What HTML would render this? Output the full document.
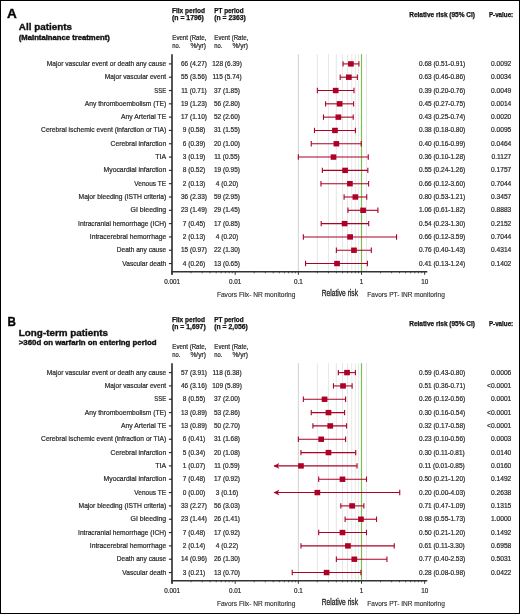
<!DOCTYPE html>
<html><head><meta charset="utf-8"><style>
html,body{margin:0;padding:0;background:#fff;}
svg{display:block;will-change:transform;}
text{font-family:"Liberation Sans",sans-serif;}
.r{stroke:#2a2a2a;stroke-width:0.22px;}
.b{stroke:#111;stroke-width:0.35px;}
.h{stroke:#111;stroke-width:0.25px;}
.f{stroke:#2a2a2a;stroke-width:0.12px;}
.g{stroke:#222;stroke-width:0.3px;}
</style></head><body>
<svg width="520" height="614" viewBox="0 0 520 614">
<rect x="0.5" y="0.5" width="519" height="613" fill="#fff" stroke="#000" stroke-width="1"/>
<text class="b" x="7.10" y="17.80" font-size="12.0" font-weight="bold" textLength="9.80" lengthAdjust="spacingAndGlyphs" fill="#000">A</text>
<text class="b" x="18.80" y="30.10" font-size="9.6" font-weight="bold" textLength="53.20" lengthAdjust="spacingAndGlyphs" fill="#111">All patients</text>
<text class="b" x="18.80" y="39.50" font-size="6.7" font-weight="bold" textLength="91.00" lengthAdjust="spacingAndGlyphs" fill="#111">(Maintainance treatment)</text>
<text class="h" x="172.00" y="12.70" font-size="6.5" font-weight="bold" textLength="33.00" lengthAdjust="spacingAndGlyphs" fill="#111">Fiix period</text>
<text class="h" x="172.00" y="20.10" font-size="6.5" font-weight="bold" textLength="31.90" lengthAdjust="spacingAndGlyphs" fill="#111">(n = 1796)</text>
<text class="h" x="214.30" y="12.70" font-size="6.5" font-weight="bold" textLength="29.30" lengthAdjust="spacingAndGlyphs" fill="#111">PT period</text>
<text class="h" x="214.30" y="20.10" font-size="6.5" font-weight="bold" textLength="31.60" lengthAdjust="spacingAndGlyphs" fill="#111">(n = 2363)</text>
<text class="r" x="172.30" y="40.10" font-size="6.9" textLength="34.00" lengthAdjust="spacingAndGlyphs" fill="#2a2a2a">Event (Rate,</text>
<text class="r" x="172.30" y="48.30" font-size="6.9" textLength="8.10" lengthAdjust="spacingAndGlyphs" fill="#2a2a2a">no.</text>
<text class="r" x="205.90" y="48.30" font-size="6.9" text-anchor="end" textLength="15.40" lengthAdjust="spacingAndGlyphs" fill="#2a2a2a">%/yr)</text>
<text class="r" x="214.30" y="40.10" font-size="6.9" textLength="34.00" lengthAdjust="spacingAndGlyphs" fill="#2a2a2a">Event (Rate,</text>
<text class="r" x="214.30" y="48.30" font-size="6.9" textLength="8.10" lengthAdjust="spacingAndGlyphs" fill="#2a2a2a">no.</text>
<text class="r" x="247.90" y="48.30" font-size="6.9" text-anchor="end" textLength="15.40" lengthAdjust="spacingAndGlyphs" fill="#2a2a2a">%/yr)</text>
<text class="h" x="409.20" y="16.60" font-size="6.5" font-weight="bold" textLength="65.80" lengthAdjust="spacingAndGlyphs" fill="#111">Relative risk (95% CI)</text>
<text class="h" x="488.90" y="16.60" font-size="6.5" font-weight="bold" textLength="24.30" lengthAdjust="spacingAndGlyphs" fill="#111">P-value:</text>
<line x1="317.36" y1="54.2" x2="317.36" y2="271.8" stroke="#e4e4e4" stroke-width="0.9"/>
<line x1="328.48" y1="54.2" x2="328.48" y2="271.8" stroke="#e4e4e4" stroke-width="0.9"/>
<line x1="336.37" y1="54.2" x2="336.37" y2="271.8" stroke="#e4e4e4" stroke-width="0.9"/>
<line x1="342.49" y1="54.2" x2="342.49" y2="271.8" stroke="#e4e4e4" stroke-width="0.9"/>
<line x1="347.49" y1="54.2" x2="347.49" y2="271.8" stroke="#e4e4e4" stroke-width="0.9"/>
<line x1="351.72" y1="54.2" x2="351.72" y2="271.8" stroke="#e4e4e4" stroke-width="0.9"/>
<line x1="355.38" y1="54.2" x2="355.38" y2="271.8" stroke="#e4e4e4" stroke-width="0.9"/>
<line x1="358.61" y1="54.2" x2="358.61" y2="271.8" stroke="#e4e4e4" stroke-width="0.9"/>
<line x1="366.50" y1="54.2" x2="366.50" y2="271.8" stroke="#e4e4e4" stroke-width="0.9"/>
<line x1="298.35" y1="54.2" x2="298.35" y2="271.8" stroke="#d2d2d2" stroke-width="1"/>
<line x1="361.50" y1="54.2" x2="361.50" y2="271.8" stroke="#7cbd55" stroke-width="1.2"/>
<line x1="172" y1="54.2" x2="172" y2="274.8" stroke="#383838" stroke-width="1.7"/>
<line x1="171.2" y1="271.8" x2="427.3" y2="271.8" stroke="#333" stroke-width="1.6"/>
<line x1="172.05" y1="271.8" x2="172.05" y2="274.8" stroke="#333" stroke-width="1"/>
<line x1="191.06" y1="271.8" x2="191.06" y2="273.3" stroke="#333" stroke-width="0.8"/>
<line x1="202.18" y1="271.8" x2="202.18" y2="273.3" stroke="#333" stroke-width="0.8"/>
<line x1="210.07" y1="271.8" x2="210.07" y2="273.3" stroke="#333" stroke-width="0.8"/>
<line x1="216.19" y1="271.8" x2="216.19" y2="273.3" stroke="#333" stroke-width="0.8"/>
<line x1="221.19" y1="271.8" x2="221.19" y2="273.3" stroke="#333" stroke-width="0.8"/>
<line x1="225.42" y1="271.8" x2="225.42" y2="273.3" stroke="#333" stroke-width="0.8"/>
<line x1="229.08" y1="271.8" x2="229.08" y2="273.3" stroke="#333" stroke-width="0.8"/>
<line x1="232.31" y1="271.8" x2="232.31" y2="273.3" stroke="#333" stroke-width="0.8"/>
<line x1="235.20" y1="271.8" x2="235.20" y2="274.8" stroke="#333" stroke-width="1"/>
<line x1="254.21" y1="271.8" x2="254.21" y2="273.3" stroke="#333" stroke-width="0.8"/>
<line x1="265.33" y1="271.8" x2="265.33" y2="273.3" stroke="#333" stroke-width="0.8"/>
<line x1="273.22" y1="271.8" x2="273.22" y2="273.3" stroke="#333" stroke-width="0.8"/>
<line x1="279.34" y1="271.8" x2="279.34" y2="273.3" stroke="#333" stroke-width="0.8"/>
<line x1="284.34" y1="271.8" x2="284.34" y2="273.3" stroke="#333" stroke-width="0.8"/>
<line x1="288.57" y1="271.8" x2="288.57" y2="273.3" stroke="#333" stroke-width="0.8"/>
<line x1="292.23" y1="271.8" x2="292.23" y2="273.3" stroke="#333" stroke-width="0.8"/>
<line x1="295.46" y1="271.8" x2="295.46" y2="273.3" stroke="#333" stroke-width="0.8"/>
<line x1="298.35" y1="271.8" x2="298.35" y2="274.8" stroke="#333" stroke-width="1"/>
<line x1="317.36" y1="271.8" x2="317.36" y2="273.3" stroke="#333" stroke-width="0.8"/>
<line x1="328.48" y1="271.8" x2="328.48" y2="273.3" stroke="#333" stroke-width="0.8"/>
<line x1="336.37" y1="271.8" x2="336.37" y2="273.3" stroke="#333" stroke-width="0.8"/>
<line x1="342.49" y1="271.8" x2="342.49" y2="273.3" stroke="#333" stroke-width="0.8"/>
<line x1="347.49" y1="271.8" x2="347.49" y2="273.3" stroke="#333" stroke-width="0.8"/>
<line x1="351.72" y1="271.8" x2="351.72" y2="273.3" stroke="#333" stroke-width="0.8"/>
<line x1="355.38" y1="271.8" x2="355.38" y2="273.3" stroke="#333" stroke-width="0.8"/>
<line x1="358.61" y1="271.8" x2="358.61" y2="273.3" stroke="#333" stroke-width="0.8"/>
<line x1="361.50" y1="271.8" x2="361.50" y2="274.8" stroke="#333" stroke-width="1"/>
<line x1="380.51" y1="271.8" x2="380.51" y2="273.3" stroke="#333" stroke-width="0.8"/>
<line x1="391.63" y1="271.8" x2="391.63" y2="273.3" stroke="#333" stroke-width="0.8"/>
<line x1="399.52" y1="271.8" x2="399.52" y2="273.3" stroke="#333" stroke-width="0.8"/>
<line x1="405.64" y1="271.8" x2="405.64" y2="273.3" stroke="#333" stroke-width="0.8"/>
<line x1="410.64" y1="271.8" x2="410.64" y2="273.3" stroke="#333" stroke-width="0.8"/>
<line x1="414.87" y1="271.8" x2="414.87" y2="273.3" stroke="#333" stroke-width="0.8"/>
<line x1="418.53" y1="271.8" x2="418.53" y2="273.3" stroke="#333" stroke-width="0.8"/>
<line x1="421.76" y1="271.8" x2="421.76" y2="273.3" stroke="#333" stroke-width="0.8"/>
<line x1="424.65" y1="271.8" x2="424.65" y2="274.8" stroke="#333" stroke-width="1"/>
<text class="r" x="172.05" y="283.60" font-size="7.0" text-anchor="middle" textLength="15.76" lengthAdjust="spacingAndGlyphs" fill="#2a2a2a">0.001</text>
<text class="r" x="235.20" y="283.60" font-size="7.0" text-anchor="middle" textLength="12.26" lengthAdjust="spacingAndGlyphs" fill="#2a2a2a">0.01</text>
<text class="r" x="298.35" y="283.60" font-size="7.0" text-anchor="middle" textLength="8.76" lengthAdjust="spacingAndGlyphs" fill="#2a2a2a">0.1</text>
<text class="r" x="361.50" y="283.60" font-size="7.0" text-anchor="middle" textLength="3.50" lengthAdjust="spacingAndGlyphs" fill="#2a2a2a">1</text>
<text class="r" x="424.65" y="283.60" font-size="7.0" text-anchor="middle" textLength="7.01" lengthAdjust="spacingAndGlyphs" fill="#2a2a2a">10</text>
<text class="f" x="216.90" y="296.50" font-size="6.9" textLength="78.50" lengthAdjust="spacingAndGlyphs" fill="#2a2a2a">Favors Fiix- NR monitoring</text>
<text class="g" x="321.80" y="295.60" font-size="8.6" textLength="36.20" lengthAdjust="spacingAndGlyphs" fill="#222">Relative risk</text>
<text class="f" x="367.30" y="296.50" font-size="6.9" textLength="77.50" lengthAdjust="spacingAndGlyphs" fill="#2a2a2a">Favors PT- INR monitoring</text>
<line x1="168.9" y1="63.90" x2="172" y2="63.90" stroke="#2a2a2a" stroke-width="1.15"/>
<text class="r" x="166.20" y="65.90" font-size="7.3" text-anchor="end" textLength="119.40" lengthAdjust="spacingAndGlyphs" fill="#2a2a2a">Major vascular event or death any cause</text>
<text class="r" x="194.00" y="65.90" font-size="7.3" text-anchor="middle" textLength="26.00" lengthAdjust="spacingAndGlyphs" fill="#2a2a2a">66 (4.27)</text>
<text class="r" x="227.00" y="65.90" font-size="7.3" text-anchor="middle" textLength="29.61" lengthAdjust="spacingAndGlyphs" fill="#2a2a2a">128 (6.39)</text>
<text class="r" x="419.00" y="65.90" font-size="7.3" textLength="46.23" lengthAdjust="spacingAndGlyphs" fill="#2a2a2a">0.68 (0.51-0.91)</text>
<text class="r" x="511.30" y="65.90" font-size="7.3" text-anchor="end" textLength="20.34" lengthAdjust="spacingAndGlyphs" fill="#2a2a2a">0.0092</text>
<line x1="343.03" y1="63.90" x2="358.91" y2="63.90" stroke="#ad0026" stroke-width="1.1"/>
<line x1="358.91" y1="61.20" x2="358.91" y2="66.60" stroke="#ad0026" stroke-width="1.1"/>
<line x1="343.03" y1="61.20" x2="343.03" y2="66.60" stroke="#ad0026" stroke-width="1.1"/>
<rect x="348.07" y="61.20" width="5.7" height="5.4" fill="#ad0026"/>
<line x1="168.9" y1="77.21" x2="172" y2="77.21" stroke="#2a2a2a" stroke-width="1.15"/>
<text class="r" x="166.20" y="79.21" font-size="7.3" text-anchor="end" textLength="61.40" lengthAdjust="spacingAndGlyphs" fill="#2a2a2a">Major vascular event</text>
<text class="r" x="194.00" y="79.21" font-size="7.3" text-anchor="middle" textLength="26.00" lengthAdjust="spacingAndGlyphs" fill="#2a2a2a">55 (3.56)</text>
<text class="r" x="227.00" y="79.21" font-size="7.3" text-anchor="middle" textLength="29.13" lengthAdjust="spacingAndGlyphs" fill="#2a2a2a">115 (5.74)</text>
<text class="r" x="419.00" y="79.21" font-size="7.3" textLength="46.23" lengthAdjust="spacingAndGlyphs" fill="#2a2a2a">0.63 (0.46-0.86)</text>
<text class="r" x="511.30" y="79.21" font-size="7.3" text-anchor="end" textLength="20.34" lengthAdjust="spacingAndGlyphs" fill="#2a2a2a">0.0034</text>
<line x1="340.20" y1="77.21" x2="357.36" y2="77.21" stroke="#ad0026" stroke-width="1.1"/>
<line x1="357.36" y1="74.51" x2="357.36" y2="79.91" stroke="#ad0026" stroke-width="1.1"/>
<line x1="340.20" y1="74.51" x2="340.20" y2="79.91" stroke="#ad0026" stroke-width="1.1"/>
<rect x="345.98" y="74.51" width="5.7" height="5.4" fill="#ad0026"/>
<line x1="168.9" y1="90.52" x2="172" y2="90.52" stroke="#2a2a2a" stroke-width="1.15"/>
<text class="r" x="166.20" y="92.52" font-size="7.3" text-anchor="end" textLength="11.90" lengthAdjust="spacingAndGlyphs" fill="#2a2a2a">SSE</text>
<text class="r" x="194.00" y="92.52" font-size="7.3" text-anchor="middle" textLength="25.52" lengthAdjust="spacingAndGlyphs" fill="#2a2a2a">11 (0.71)</text>
<text class="r" x="227.00" y="92.52" font-size="7.3" text-anchor="middle" textLength="26.00" lengthAdjust="spacingAndGlyphs" fill="#2a2a2a">37 (1.85)</text>
<text class="r" x="419.00" y="92.52" font-size="7.3" textLength="46.23" lengthAdjust="spacingAndGlyphs" fill="#2a2a2a">0.39 (0.20-0.76)</text>
<text class="r" x="511.30" y="92.52" font-size="7.3" text-anchor="end" textLength="20.34" lengthAdjust="spacingAndGlyphs" fill="#2a2a2a">0.0049</text>
<line x1="317.36" y1="90.52" x2="353.97" y2="90.52" stroke="#ad0026" stroke-width="1.1"/>
<line x1="353.97" y1="87.82" x2="353.97" y2="93.22" stroke="#ad0026" stroke-width="1.1"/>
<line x1="317.36" y1="87.82" x2="317.36" y2="93.22" stroke="#ad0026" stroke-width="1.1"/>
<rect x="332.83" y="87.82" width="5.7" height="5.4" fill="#ad0026"/>
<line x1="168.9" y1="103.83" x2="172" y2="103.83" stroke="#2a2a2a" stroke-width="1.15"/>
<text class="r" x="166.20" y="105.83" font-size="7.3" text-anchor="end" textLength="81.40" lengthAdjust="spacingAndGlyphs" fill="#2a2a2a">Any thromboembolism (TE)</text>
<text class="r" x="194.00" y="105.83" font-size="7.3" text-anchor="middle" textLength="26.00" lengthAdjust="spacingAndGlyphs" fill="#2a2a2a">19 (1.23)</text>
<text class="r" x="227.00" y="105.83" font-size="7.3" text-anchor="middle" textLength="26.00" lengthAdjust="spacingAndGlyphs" fill="#2a2a2a">56 (2.80)</text>
<text class="r" x="419.00" y="105.83" font-size="7.3" textLength="46.23" lengthAdjust="spacingAndGlyphs" fill="#2a2a2a">0.45 (0.27-0.75)</text>
<text class="r" x="511.30" y="105.83" font-size="7.3" text-anchor="end" textLength="20.34" lengthAdjust="spacingAndGlyphs" fill="#2a2a2a">0.0014</text>
<line x1="325.59" y1="103.83" x2="353.61" y2="103.83" stroke="#ad0026" stroke-width="1.1"/>
<line x1="353.61" y1="101.13" x2="353.61" y2="106.53" stroke="#ad0026" stroke-width="1.1"/>
<line x1="325.59" y1="101.13" x2="325.59" y2="106.53" stroke="#ad0026" stroke-width="1.1"/>
<rect x="336.75" y="101.13" width="5.7" height="5.4" fill="#ad0026"/>
<line x1="168.9" y1="117.14" x2="172" y2="117.14" stroke="#2a2a2a" stroke-width="1.15"/>
<text class="r" x="166.20" y="119.14" font-size="7.3" text-anchor="end" textLength="45.15" lengthAdjust="spacingAndGlyphs" fill="#2a2a2a">Any Arterial TE</text>
<text class="r" x="194.00" y="119.14" font-size="7.3" text-anchor="middle" textLength="26.00" lengthAdjust="spacingAndGlyphs" fill="#2a2a2a">17 (1.10)</text>
<text class="r" x="227.00" y="119.14" font-size="7.3" text-anchor="middle" textLength="26.00" lengthAdjust="spacingAndGlyphs" fill="#2a2a2a">52 (2.60)</text>
<text class="r" x="419.00" y="119.14" font-size="7.3" textLength="46.23" lengthAdjust="spacingAndGlyphs" fill="#2a2a2a">0.43 (0.25-0.74)</text>
<text class="r" x="511.30" y="119.14" font-size="7.3" text-anchor="end" textLength="20.34" lengthAdjust="spacingAndGlyphs" fill="#2a2a2a">0.0020</text>
<line x1="323.48" y1="117.14" x2="353.24" y2="117.14" stroke="#ad0026" stroke-width="1.1"/>
<line x1="353.24" y1="114.44" x2="353.24" y2="119.84" stroke="#ad0026" stroke-width="1.1"/>
<line x1="323.48" y1="114.44" x2="323.48" y2="119.84" stroke="#ad0026" stroke-width="1.1"/>
<rect x="335.50" y="114.44" width="5.7" height="5.4" fill="#ad0026"/>
<line x1="168.9" y1="130.45" x2="172" y2="130.45" stroke="#2a2a2a" stroke-width="1.15"/>
<text class="r" x="166.20" y="132.45" font-size="7.3" text-anchor="end" textLength="125.15" lengthAdjust="spacingAndGlyphs" fill="#2a2a2a">Cerebral ischemic event (infarction or TIA)</text>
<text class="r" x="194.00" y="132.45" font-size="7.3" text-anchor="middle" textLength="22.39" lengthAdjust="spacingAndGlyphs" fill="#2a2a2a">9 (0.58)</text>
<text class="r" x="227.00" y="132.45" font-size="7.3" text-anchor="middle" textLength="26.00" lengthAdjust="spacingAndGlyphs" fill="#2a2a2a">31 (1.55)</text>
<text class="r" x="419.00" y="132.45" font-size="7.3" textLength="46.23" lengthAdjust="spacingAndGlyphs" fill="#2a2a2a">0.38 (0.18-0.80)</text>
<text class="r" x="511.30" y="132.45" font-size="7.3" text-anchor="end" textLength="20.34" lengthAdjust="spacingAndGlyphs" fill="#2a2a2a">0.0095</text>
<line x1="314.47" y1="130.45" x2="355.38" y2="130.45" stroke="#ad0026" stroke-width="1.1"/>
<line x1="355.38" y1="127.75" x2="355.38" y2="133.15" stroke="#ad0026" stroke-width="1.1"/>
<line x1="314.47" y1="127.75" x2="314.47" y2="133.15" stroke="#ad0026" stroke-width="1.1"/>
<rect x="332.11" y="127.75" width="5.7" height="5.4" fill="#ad0026"/>
<line x1="168.9" y1="143.76" x2="172" y2="143.76" stroke="#2a2a2a" stroke-width="1.15"/>
<text class="r" x="166.20" y="145.76" font-size="7.3" text-anchor="end" textLength="55.65" lengthAdjust="spacingAndGlyphs" fill="#2a2a2a">Cerebral infarction</text>
<text class="r" x="194.00" y="145.76" font-size="7.3" text-anchor="middle" textLength="22.39" lengthAdjust="spacingAndGlyphs" fill="#2a2a2a">6 (0.39)</text>
<text class="r" x="227.00" y="145.76" font-size="7.3" text-anchor="middle" textLength="26.00" lengthAdjust="spacingAndGlyphs" fill="#2a2a2a">20 (1.00)</text>
<text class="r" x="419.00" y="145.76" font-size="7.3" textLength="46.23" lengthAdjust="spacingAndGlyphs" fill="#2a2a2a">0.40 (0.16-0.99)</text>
<text class="r" x="511.30" y="145.76" font-size="7.3" text-anchor="end" textLength="20.34" lengthAdjust="spacingAndGlyphs" fill="#2a2a2a">0.0464</text>
<line x1="311.24" y1="143.76" x2="361.22" y2="143.76" stroke="#ad0026" stroke-width="1.1"/>
<line x1="361.22" y1="141.06" x2="361.22" y2="146.46" stroke="#ad0026" stroke-width="1.1"/>
<line x1="311.24" y1="141.06" x2="311.24" y2="146.46" stroke="#ad0026" stroke-width="1.1"/>
<rect x="333.52" y="141.06" width="5.7" height="5.4" fill="#ad0026"/>
<line x1="168.9" y1="157.07" x2="172" y2="157.07" stroke="#2a2a2a" stroke-width="1.15"/>
<text class="r" x="166.20" y="159.07" font-size="7.3" text-anchor="end" textLength="10.90" lengthAdjust="spacingAndGlyphs" fill="#2a2a2a">TIA</text>
<text class="r" x="194.00" y="159.07" font-size="7.3" text-anchor="middle" textLength="22.39" lengthAdjust="spacingAndGlyphs" fill="#2a2a2a">3 (0.19)</text>
<text class="r" x="227.00" y="159.07" font-size="7.3" text-anchor="middle" textLength="25.52" lengthAdjust="spacingAndGlyphs" fill="#2a2a2a">11 (0.55)</text>
<text class="r" x="419.00" y="159.07" font-size="7.3" textLength="46.23" lengthAdjust="spacingAndGlyphs" fill="#2a2a2a">0.36 (0.10-1.28)</text>
<text class="r" x="511.30" y="159.07" font-size="7.3" text-anchor="end" textLength="19.84" lengthAdjust="spacingAndGlyphs" fill="#2a2a2a">0.1127</text>
<line x1="298.35" y1="157.07" x2="368.27" y2="157.07" stroke="#ad0026" stroke-width="1.1"/>
<line x1="368.27" y1="154.37" x2="368.27" y2="159.77" stroke="#ad0026" stroke-width="1.1"/>
<line x1="298.35" y1="154.37" x2="298.35" y2="159.77" stroke="#ad0026" stroke-width="1.1"/>
<rect x="330.63" y="154.37" width="5.7" height="5.4" fill="#ad0026"/>
<line x1="168.9" y1="170.38" x2="172" y2="170.38" stroke="#2a2a2a" stroke-width="1.15"/>
<text class="r" x="166.20" y="172.38" font-size="7.3" text-anchor="end" textLength="62.65" lengthAdjust="spacingAndGlyphs" fill="#2a2a2a">Myocardial infarction</text>
<text class="r" x="194.00" y="172.38" font-size="7.3" text-anchor="middle" textLength="22.39" lengthAdjust="spacingAndGlyphs" fill="#2a2a2a">8 (0.52)</text>
<text class="r" x="227.00" y="172.38" font-size="7.3" text-anchor="middle" textLength="26.00" lengthAdjust="spacingAndGlyphs" fill="#2a2a2a">19 (0.95)</text>
<text class="r" x="419.00" y="172.38" font-size="7.3" textLength="46.23" lengthAdjust="spacingAndGlyphs" fill="#2a2a2a">0.55 (0.24-1.26)</text>
<text class="r" x="511.30" y="172.38" font-size="7.3" text-anchor="end" textLength="20.34" lengthAdjust="spacingAndGlyphs" fill="#2a2a2a">0.1757</text>
<line x1="322.36" y1="170.38" x2="367.84" y2="170.38" stroke="#ad0026" stroke-width="1.1"/>
<line x1="367.84" y1="167.68" x2="367.84" y2="173.08" stroke="#ad0026" stroke-width="1.1"/>
<line x1="322.36" y1="167.68" x2="322.36" y2="173.08" stroke="#ad0026" stroke-width="1.1"/>
<rect x="342.25" y="167.68" width="5.7" height="5.4" fill="#ad0026"/>
<line x1="168.9" y1="183.69" x2="172" y2="183.69" stroke="#2a2a2a" stroke-width="1.15"/>
<text class="r" x="166.20" y="185.69" font-size="7.3" text-anchor="end" textLength="31.90" lengthAdjust="spacingAndGlyphs" fill="#2a2a2a">Venous TE</text>
<text class="r" x="194.00" y="185.69" font-size="7.3" text-anchor="middle" textLength="22.39" lengthAdjust="spacingAndGlyphs" fill="#2a2a2a">2 (0.13)</text>
<text class="r" x="227.00" y="185.69" font-size="7.3" text-anchor="middle" textLength="22.39" lengthAdjust="spacingAndGlyphs" fill="#2a2a2a">4 (0.20)</text>
<text class="r" x="419.00" y="185.69" font-size="7.3" textLength="46.23" lengthAdjust="spacingAndGlyphs" fill="#2a2a2a">0.66 (0.12-3.60)</text>
<text class="r" x="511.30" y="185.69" font-size="7.3" text-anchor="end" textLength="20.34" lengthAdjust="spacingAndGlyphs" fill="#2a2a2a">0.7044</text>
<line x1="320.95" y1="183.69" x2="368.61" y2="183.69" stroke="#ad0026" stroke-width="1.1"/>
<line x1="368.61" y1="180.99" x2="368.61" y2="186.39" stroke="#ad0026" stroke-width="1.1"/>
<line x1="320.95" y1="180.99" x2="320.95" y2="186.39" stroke="#ad0026" stroke-width="1.1"/>
<rect x="347.05" y="180.99" width="5.7" height="5.4" fill="#ad0026"/>
<line x1="168.9" y1="197.00" x2="172" y2="197.00" stroke="#2a2a2a" stroke-width="1.15"/>
<text class="r" x="166.20" y="199.00" font-size="7.3" text-anchor="end" textLength="87.65" lengthAdjust="spacingAndGlyphs" fill="#2a2a2a">Major bleeding (ISTH criteria)</text>
<text class="r" x="194.00" y="199.00" font-size="7.3" text-anchor="middle" textLength="26.00" lengthAdjust="spacingAndGlyphs" fill="#2a2a2a">36 (2.33)</text>
<text class="r" x="227.00" y="199.00" font-size="7.3" text-anchor="middle" textLength="26.00" lengthAdjust="spacingAndGlyphs" fill="#2a2a2a">59 (2.95)</text>
<text class="r" x="419.00" y="199.00" font-size="7.3" textLength="46.23" lengthAdjust="spacingAndGlyphs" fill="#2a2a2a">0.80 (0.53-1.21)</text>
<text class="r" x="511.30" y="199.00" font-size="7.3" text-anchor="end" textLength="20.34" lengthAdjust="spacingAndGlyphs" fill="#2a2a2a">0.3457</text>
<line x1="344.09" y1="197.00" x2="366.73" y2="197.00" stroke="#ad0026" stroke-width="1.1"/>
<line x1="366.73" y1="194.30" x2="366.73" y2="199.70" stroke="#ad0026" stroke-width="1.1"/>
<line x1="344.09" y1="194.30" x2="344.09" y2="199.70" stroke="#ad0026" stroke-width="1.1"/>
<rect x="352.53" y="194.30" width="5.7" height="5.4" fill="#ad0026"/>
<line x1="168.9" y1="210.31" x2="172" y2="210.31" stroke="#2a2a2a" stroke-width="1.15"/>
<text class="r" x="166.20" y="212.31" font-size="7.3" text-anchor="end" textLength="35.65" lengthAdjust="spacingAndGlyphs" fill="#2a2a2a">GI bleeding</text>
<text class="r" x="194.00" y="212.31" font-size="7.3" text-anchor="middle" textLength="26.00" lengthAdjust="spacingAndGlyphs" fill="#2a2a2a">23 (1.49)</text>
<text class="r" x="227.00" y="212.31" font-size="7.3" text-anchor="middle" textLength="26.00" lengthAdjust="spacingAndGlyphs" fill="#2a2a2a">29 (1.45)</text>
<text class="r" x="419.00" y="212.31" font-size="7.3" textLength="46.23" lengthAdjust="spacingAndGlyphs" fill="#2a2a2a">1.06 (0.61-1.82)</text>
<text class="r" x="511.30" y="212.31" font-size="7.3" text-anchor="end" textLength="20.34" lengthAdjust="spacingAndGlyphs" fill="#2a2a2a">0.8883</text>
<line x1="347.94" y1="210.31" x2="377.92" y2="210.31" stroke="#ad0026" stroke-width="1.1"/>
<line x1="377.92" y1="207.61" x2="377.92" y2="213.01" stroke="#ad0026" stroke-width="1.1"/>
<line x1="347.94" y1="207.61" x2="347.94" y2="213.01" stroke="#ad0026" stroke-width="1.1"/>
<rect x="360.25" y="207.61" width="5.7" height="5.4" fill="#ad0026"/>
<line x1="168.9" y1="223.62" x2="172" y2="223.62" stroke="#2a2a2a" stroke-width="1.15"/>
<text class="r" x="166.20" y="225.62" font-size="7.3" text-anchor="end" textLength="88.15" lengthAdjust="spacingAndGlyphs" fill="#2a2a2a">Intracranial hemorrhage (ICH)</text>
<text class="r" x="194.00" y="225.62" font-size="7.3" text-anchor="middle" textLength="22.39" lengthAdjust="spacingAndGlyphs" fill="#2a2a2a">7 (0.45)</text>
<text class="r" x="227.00" y="225.62" font-size="7.3" text-anchor="middle" textLength="26.00" lengthAdjust="spacingAndGlyphs" fill="#2a2a2a">17 (0.85)</text>
<text class="r" x="419.00" y="225.62" font-size="7.3" textLength="46.23" lengthAdjust="spacingAndGlyphs" fill="#2a2a2a">0.54 (0.23-1.30)</text>
<text class="r" x="511.30" y="225.62" font-size="7.3" text-anchor="end" textLength="20.34" lengthAdjust="spacingAndGlyphs" fill="#2a2a2a">0.2152</text>
<line x1="321.19" y1="223.62" x2="368.70" y2="223.62" stroke="#ad0026" stroke-width="1.1"/>
<line x1="368.70" y1="220.92" x2="368.70" y2="226.32" stroke="#ad0026" stroke-width="1.1"/>
<line x1="321.19" y1="220.92" x2="321.19" y2="226.32" stroke="#ad0026" stroke-width="1.1"/>
<rect x="341.75" y="220.92" width="5.7" height="5.4" fill="#ad0026"/>
<line x1="168.9" y1="236.93" x2="172" y2="236.93" stroke="#2a2a2a" stroke-width="1.15"/>
<text class="r" x="166.20" y="238.93" font-size="7.3" text-anchor="end" textLength="76.40" lengthAdjust="spacingAndGlyphs" fill="#2a2a2a">Intracerebral hemorrhage</text>
<text class="r" x="194.00" y="238.93" font-size="7.3" text-anchor="middle" textLength="22.39" lengthAdjust="spacingAndGlyphs" fill="#2a2a2a">2 (0.13)</text>
<text class="r" x="227.00" y="238.93" font-size="7.3" text-anchor="middle" textLength="22.39" lengthAdjust="spacingAndGlyphs" fill="#2a2a2a">4 (0.20)</text>
<text class="r" x="419.00" y="238.93" font-size="7.3" textLength="46.23" lengthAdjust="spacingAndGlyphs" fill="#2a2a2a">0.66 (0.12-3.59)</text>
<text class="r" x="511.30" y="238.93" font-size="7.3" text-anchor="end" textLength="20.34" lengthAdjust="spacingAndGlyphs" fill="#2a2a2a">0.7044</text>
<line x1="303.35" y1="236.93" x2="396.55" y2="236.93" stroke="#ad0026" stroke-width="1.1"/>
<line x1="396.55" y1="234.23" x2="396.55" y2="239.63" stroke="#ad0026" stroke-width="1.1"/>
<line x1="303.35" y1="234.23" x2="303.35" y2="239.63" stroke="#ad0026" stroke-width="1.1"/>
<rect x="347.25" y="234.23" width="5.7" height="5.4" fill="#ad0026"/>
<line x1="168.9" y1="250.24" x2="172" y2="250.24" stroke="#2a2a2a" stroke-width="1.15"/>
<text class="r" x="166.20" y="252.24" font-size="7.3" text-anchor="end" textLength="49.40" lengthAdjust="spacingAndGlyphs" fill="#2a2a2a">Death any cause</text>
<text class="r" x="194.00" y="252.24" font-size="7.3" text-anchor="middle" textLength="26.00" lengthAdjust="spacingAndGlyphs" fill="#2a2a2a">15 (0.97)</text>
<text class="r" x="227.00" y="252.24" font-size="7.3" text-anchor="middle" textLength="26.00" lengthAdjust="spacingAndGlyphs" fill="#2a2a2a">22 (1.30)</text>
<text class="r" x="419.00" y="252.24" font-size="7.3" textLength="46.23" lengthAdjust="spacingAndGlyphs" fill="#2a2a2a">0.76 (0.40-1.43)</text>
<text class="r" x="511.30" y="252.24" font-size="7.3" text-anchor="end" textLength="20.34" lengthAdjust="spacingAndGlyphs" fill="#2a2a2a">0.4314</text>
<line x1="336.37" y1="250.24" x2="371.31" y2="250.24" stroke="#ad0026" stroke-width="1.1"/>
<line x1="371.31" y1="247.54" x2="371.31" y2="252.94" stroke="#ad0026" stroke-width="1.1"/>
<line x1="336.37" y1="247.54" x2="336.37" y2="252.94" stroke="#ad0026" stroke-width="1.1"/>
<rect x="351.12" y="247.54" width="5.7" height="5.4" fill="#ad0026"/>
<line x1="168.9" y1="263.55" x2="172" y2="263.55" stroke="#2a2a2a" stroke-width="1.15"/>
<text class="r" x="166.20" y="265.55" font-size="7.3" text-anchor="end" textLength="43.90" lengthAdjust="spacingAndGlyphs" fill="#2a2a2a">Vascular death</text>
<text class="r" x="194.00" y="265.55" font-size="7.3" text-anchor="middle" textLength="22.39" lengthAdjust="spacingAndGlyphs" fill="#2a2a2a">4 (0.26)</text>
<text class="r" x="227.00" y="265.55" font-size="7.3" text-anchor="middle" textLength="26.00" lengthAdjust="spacingAndGlyphs" fill="#2a2a2a">13 (0.65)</text>
<text class="r" x="419.00" y="265.55" font-size="7.3" textLength="46.23" lengthAdjust="spacingAndGlyphs" fill="#2a2a2a">0.41 (0.13-1.24)</text>
<text class="r" x="511.30" y="265.55" font-size="7.3" text-anchor="end" textLength="20.34" lengthAdjust="spacingAndGlyphs" fill="#2a2a2a">0.1402</text>
<line x1="305.55" y1="263.55" x2="367.40" y2="263.55" stroke="#ad0026" stroke-width="1.1"/>
<line x1="367.40" y1="260.85" x2="367.40" y2="266.25" stroke="#ad0026" stroke-width="1.1"/>
<line x1="305.55" y1="260.85" x2="305.55" y2="266.25" stroke="#ad0026" stroke-width="1.1"/>
<rect x="334.20" y="260.85" width="5.7" height="5.4" fill="#ad0026"/>
<text class="b" x="7.60" y="326.40" font-size="12.0" font-weight="bold" textLength="8.40" lengthAdjust="spacingAndGlyphs" fill="#000">B</text>
<text class="b" x="18.80" y="335.60" font-size="8.7" font-weight="bold" textLength="89.30" lengthAdjust="spacingAndGlyphs" fill="#111">Long-term patients</text>
<text class="b" x="18.80" y="344.60" font-size="7.0" font-weight="bold" textLength="137.70" lengthAdjust="spacingAndGlyphs" fill="#111">&gt;360d on warfarin on entering period</text>
<text class="h" x="172.00" y="321.70" font-size="6.5" font-weight="bold" textLength="33.00" lengthAdjust="spacingAndGlyphs" fill="#111">Fiix period</text>
<text class="h" x="172.00" y="329.10" font-size="6.5" font-weight="bold" textLength="33.70" lengthAdjust="spacingAndGlyphs" fill="#111">(n = 1,697)</text>
<text class="h" x="214.30" y="321.70" font-size="6.5" font-weight="bold" textLength="29.30" lengthAdjust="spacingAndGlyphs" fill="#111">PT period</text>
<text class="h" x="214.30" y="329.10" font-size="6.5" font-weight="bold" textLength="33.50" lengthAdjust="spacingAndGlyphs" fill="#111">(n = 2,056)</text>
<text class="r" x="172.30" y="349.10" font-size="6.9" textLength="34.00" lengthAdjust="spacingAndGlyphs" fill="#2a2a2a">Event (Rate,</text>
<text class="r" x="172.30" y="357.30" font-size="6.9" textLength="8.10" lengthAdjust="spacingAndGlyphs" fill="#2a2a2a">no.</text>
<text class="r" x="205.90" y="357.30" font-size="6.9" text-anchor="end" textLength="15.40" lengthAdjust="spacingAndGlyphs" fill="#2a2a2a">%/yr)</text>
<text class="r" x="214.30" y="349.10" font-size="6.9" textLength="34.00" lengthAdjust="spacingAndGlyphs" fill="#2a2a2a">Event (Rate,</text>
<text class="r" x="214.30" y="357.30" font-size="6.9" textLength="8.10" lengthAdjust="spacingAndGlyphs" fill="#2a2a2a">no.</text>
<text class="r" x="247.90" y="357.30" font-size="6.9" text-anchor="end" textLength="15.40" lengthAdjust="spacingAndGlyphs" fill="#2a2a2a">%/yr)</text>
<text class="h" x="409.20" y="325.60" font-size="6.5" font-weight="bold" textLength="65.80" lengthAdjust="spacingAndGlyphs" fill="#111">Relative risk (95% CI)</text>
<text class="h" x="488.90" y="325.60" font-size="6.5" font-weight="bold" textLength="24.30" lengthAdjust="spacingAndGlyphs" fill="#111">P-value:</text>
<line x1="317.36" y1="363.2" x2="317.36" y2="580.8" stroke="#e4e4e4" stroke-width="0.9"/>
<line x1="328.48" y1="363.2" x2="328.48" y2="580.8" stroke="#e4e4e4" stroke-width="0.9"/>
<line x1="336.37" y1="363.2" x2="336.37" y2="580.8" stroke="#e4e4e4" stroke-width="0.9"/>
<line x1="342.49" y1="363.2" x2="342.49" y2="580.8" stroke="#e4e4e4" stroke-width="0.9"/>
<line x1="347.49" y1="363.2" x2="347.49" y2="580.8" stroke="#e4e4e4" stroke-width="0.9"/>
<line x1="351.72" y1="363.2" x2="351.72" y2="580.8" stroke="#e4e4e4" stroke-width="0.9"/>
<line x1="355.38" y1="363.2" x2="355.38" y2="580.8" stroke="#e4e4e4" stroke-width="0.9"/>
<line x1="358.61" y1="363.2" x2="358.61" y2="580.8" stroke="#e4e4e4" stroke-width="0.9"/>
<line x1="366.50" y1="363.2" x2="366.50" y2="580.8" stroke="#e4e4e4" stroke-width="0.9"/>
<line x1="298.35" y1="363.2" x2="298.35" y2="580.8" stroke="#d2d2d2" stroke-width="1"/>
<line x1="361.50" y1="363.2" x2="361.50" y2="580.8" stroke="#7cbd55" stroke-width="1.2"/>
<line x1="172" y1="363.2" x2="172" y2="583.8" stroke="#383838" stroke-width="1.7"/>
<line x1="171.2" y1="580.8" x2="427.3" y2="580.8" stroke="#333" stroke-width="1.6"/>
<line x1="172.05" y1="580.8" x2="172.05" y2="583.8" stroke="#333" stroke-width="1"/>
<line x1="191.06" y1="580.8" x2="191.06" y2="582.3" stroke="#333" stroke-width="0.8"/>
<line x1="202.18" y1="580.8" x2="202.18" y2="582.3" stroke="#333" stroke-width="0.8"/>
<line x1="210.07" y1="580.8" x2="210.07" y2="582.3" stroke="#333" stroke-width="0.8"/>
<line x1="216.19" y1="580.8" x2="216.19" y2="582.3" stroke="#333" stroke-width="0.8"/>
<line x1="221.19" y1="580.8" x2="221.19" y2="582.3" stroke="#333" stroke-width="0.8"/>
<line x1="225.42" y1="580.8" x2="225.42" y2="582.3" stroke="#333" stroke-width="0.8"/>
<line x1="229.08" y1="580.8" x2="229.08" y2="582.3" stroke="#333" stroke-width="0.8"/>
<line x1="232.31" y1="580.8" x2="232.31" y2="582.3" stroke="#333" stroke-width="0.8"/>
<line x1="235.20" y1="580.8" x2="235.20" y2="583.8" stroke="#333" stroke-width="1"/>
<line x1="254.21" y1="580.8" x2="254.21" y2="582.3" stroke="#333" stroke-width="0.8"/>
<line x1="265.33" y1="580.8" x2="265.33" y2="582.3" stroke="#333" stroke-width="0.8"/>
<line x1="273.22" y1="580.8" x2="273.22" y2="582.3" stroke="#333" stroke-width="0.8"/>
<line x1="279.34" y1="580.8" x2="279.34" y2="582.3" stroke="#333" stroke-width="0.8"/>
<line x1="284.34" y1="580.8" x2="284.34" y2="582.3" stroke="#333" stroke-width="0.8"/>
<line x1="288.57" y1="580.8" x2="288.57" y2="582.3" stroke="#333" stroke-width="0.8"/>
<line x1="292.23" y1="580.8" x2="292.23" y2="582.3" stroke="#333" stroke-width="0.8"/>
<line x1="295.46" y1="580.8" x2="295.46" y2="582.3" stroke="#333" stroke-width="0.8"/>
<line x1="298.35" y1="580.8" x2="298.35" y2="583.8" stroke="#333" stroke-width="1"/>
<line x1="317.36" y1="580.8" x2="317.36" y2="582.3" stroke="#333" stroke-width="0.8"/>
<line x1="328.48" y1="580.8" x2="328.48" y2="582.3" stroke="#333" stroke-width="0.8"/>
<line x1="336.37" y1="580.8" x2="336.37" y2="582.3" stroke="#333" stroke-width="0.8"/>
<line x1="342.49" y1="580.8" x2="342.49" y2="582.3" stroke="#333" stroke-width="0.8"/>
<line x1="347.49" y1="580.8" x2="347.49" y2="582.3" stroke="#333" stroke-width="0.8"/>
<line x1="351.72" y1="580.8" x2="351.72" y2="582.3" stroke="#333" stroke-width="0.8"/>
<line x1="355.38" y1="580.8" x2="355.38" y2="582.3" stroke="#333" stroke-width="0.8"/>
<line x1="358.61" y1="580.8" x2="358.61" y2="582.3" stroke="#333" stroke-width="0.8"/>
<line x1="361.50" y1="580.8" x2="361.50" y2="583.8" stroke="#333" stroke-width="1"/>
<line x1="380.51" y1="580.8" x2="380.51" y2="582.3" stroke="#333" stroke-width="0.8"/>
<line x1="391.63" y1="580.8" x2="391.63" y2="582.3" stroke="#333" stroke-width="0.8"/>
<line x1="399.52" y1="580.8" x2="399.52" y2="582.3" stroke="#333" stroke-width="0.8"/>
<line x1="405.64" y1="580.8" x2="405.64" y2="582.3" stroke="#333" stroke-width="0.8"/>
<line x1="410.64" y1="580.8" x2="410.64" y2="582.3" stroke="#333" stroke-width="0.8"/>
<line x1="414.87" y1="580.8" x2="414.87" y2="582.3" stroke="#333" stroke-width="0.8"/>
<line x1="418.53" y1="580.8" x2="418.53" y2="582.3" stroke="#333" stroke-width="0.8"/>
<line x1="421.76" y1="580.8" x2="421.76" y2="582.3" stroke="#333" stroke-width="0.8"/>
<line x1="424.65" y1="580.8" x2="424.65" y2="583.8" stroke="#333" stroke-width="1"/>
<text class="r" x="172.05" y="592.60" font-size="7.0" text-anchor="middle" textLength="15.76" lengthAdjust="spacingAndGlyphs" fill="#2a2a2a">0.001</text>
<text class="r" x="235.20" y="592.60" font-size="7.0" text-anchor="middle" textLength="12.26" lengthAdjust="spacingAndGlyphs" fill="#2a2a2a">0.01</text>
<text class="r" x="298.35" y="592.60" font-size="7.0" text-anchor="middle" textLength="8.76" lengthAdjust="spacingAndGlyphs" fill="#2a2a2a">0.1</text>
<text class="r" x="361.50" y="592.60" font-size="7.0" text-anchor="middle" textLength="3.50" lengthAdjust="spacingAndGlyphs" fill="#2a2a2a">1</text>
<text class="r" x="424.65" y="592.60" font-size="7.0" text-anchor="middle" textLength="7.01" lengthAdjust="spacingAndGlyphs" fill="#2a2a2a">10</text>
<text class="f" x="216.90" y="605.50" font-size="6.9" textLength="78.50" lengthAdjust="spacingAndGlyphs" fill="#2a2a2a">Favors Fiix- NR monitoring</text>
<text class="g" x="321.80" y="604.60" font-size="8.6" textLength="36.20" lengthAdjust="spacingAndGlyphs" fill="#222">Relative risk</text>
<text class="f" x="367.30" y="605.50" font-size="6.9" textLength="77.50" lengthAdjust="spacingAndGlyphs" fill="#2a2a2a">Favors PT- INR monitoring</text>
<line x1="168.9" y1="372.60" x2="172" y2="372.60" stroke="#2a2a2a" stroke-width="1.15"/>
<text class="r" x="166.20" y="374.60" font-size="7.3" text-anchor="end" textLength="119.40" lengthAdjust="spacingAndGlyphs" fill="#2a2a2a">Major vascular event or death any cause</text>
<text class="r" x="194.00" y="374.60" font-size="7.3" text-anchor="middle" textLength="26.00" lengthAdjust="spacingAndGlyphs" fill="#2a2a2a">57 (3.91)</text>
<text class="r" x="227.00" y="374.60" font-size="7.3" text-anchor="middle" textLength="29.13" lengthAdjust="spacingAndGlyphs" fill="#2a2a2a">118 (6.38)</text>
<text class="r" x="419.00" y="374.60" font-size="7.3" textLength="46.23" lengthAdjust="spacingAndGlyphs" fill="#2a2a2a">0.59 (0.43-0.80)</text>
<text class="r" x="511.30" y="374.60" font-size="7.3" text-anchor="end" textLength="20.34" lengthAdjust="spacingAndGlyphs" fill="#2a2a2a">0.0006</text>
<line x1="338.35" y1="372.60" x2="355.38" y2="372.60" stroke="#ad0026" stroke-width="1.1"/>
<line x1="355.38" y1="369.90" x2="355.38" y2="375.30" stroke="#ad0026" stroke-width="1.1"/>
<line x1="338.35" y1="369.90" x2="338.35" y2="375.30" stroke="#ad0026" stroke-width="1.1"/>
<rect x="344.18" y="369.90" width="5.7" height="5.4" fill="#ad0026"/>
<line x1="168.9" y1="385.93" x2="172" y2="385.93" stroke="#2a2a2a" stroke-width="1.15"/>
<text class="r" x="166.20" y="387.93" font-size="7.3" text-anchor="end" textLength="61.40" lengthAdjust="spacingAndGlyphs" fill="#2a2a2a">Major vascular event</text>
<text class="r" x="194.00" y="387.93" font-size="7.3" text-anchor="middle" textLength="26.00" lengthAdjust="spacingAndGlyphs" fill="#2a2a2a">46 (3.16)</text>
<text class="r" x="227.00" y="387.93" font-size="7.3" text-anchor="middle" textLength="29.61" lengthAdjust="spacingAndGlyphs" fill="#2a2a2a">109 (5.89)</text>
<text class="r" x="419.00" y="387.93" font-size="7.3" textLength="46.23" lengthAdjust="spacingAndGlyphs" fill="#2a2a2a">0.51 (0.36-0.71)</text>
<text class="r" x="511.30" y="387.93" font-size="7.3" text-anchor="end" textLength="24.22" lengthAdjust="spacingAndGlyphs" fill="#2a2a2a">&lt;0.0001</text>
<line x1="333.48" y1="385.93" x2="352.11" y2="385.93" stroke="#ad0026" stroke-width="1.1"/>
<line x1="352.11" y1="383.23" x2="352.11" y2="388.63" stroke="#ad0026" stroke-width="1.1"/>
<line x1="333.48" y1="383.23" x2="333.48" y2="388.63" stroke="#ad0026" stroke-width="1.1"/>
<rect x="340.18" y="383.23" width="5.7" height="5.4" fill="#ad0026"/>
<line x1="168.9" y1="399.26" x2="172" y2="399.26" stroke="#2a2a2a" stroke-width="1.15"/>
<text class="r" x="166.20" y="401.26" font-size="7.3" text-anchor="end" textLength="11.90" lengthAdjust="spacingAndGlyphs" fill="#2a2a2a">SSE</text>
<text class="r" x="194.00" y="401.26" font-size="7.3" text-anchor="middle" textLength="22.39" lengthAdjust="spacingAndGlyphs" fill="#2a2a2a">8 (0.55)</text>
<text class="r" x="227.00" y="401.26" font-size="7.3" text-anchor="middle" textLength="26.00" lengthAdjust="spacingAndGlyphs" fill="#2a2a2a">37 (2.00)</text>
<text class="r" x="419.00" y="401.26" font-size="7.3" textLength="46.23" lengthAdjust="spacingAndGlyphs" fill="#2a2a2a">0.26 (0.12-0.56)</text>
<text class="r" x="511.30" y="401.26" font-size="7.3" text-anchor="end" textLength="20.34" lengthAdjust="spacingAndGlyphs" fill="#2a2a2a">0.0001</text>
<line x1="303.35" y1="399.26" x2="345.60" y2="399.26" stroke="#ad0026" stroke-width="1.1"/>
<line x1="345.60" y1="396.56" x2="345.60" y2="401.96" stroke="#ad0026" stroke-width="1.1"/>
<line x1="303.35" y1="396.56" x2="303.35" y2="401.96" stroke="#ad0026" stroke-width="1.1"/>
<rect x="321.71" y="396.56" width="5.7" height="5.4" fill="#ad0026"/>
<line x1="168.9" y1="412.59" x2="172" y2="412.59" stroke="#2a2a2a" stroke-width="1.15"/>
<text class="r" x="166.20" y="414.59" font-size="7.3" text-anchor="end" textLength="81.40" lengthAdjust="spacingAndGlyphs" fill="#2a2a2a">Any thromboembolism (TE)</text>
<text class="r" x="194.00" y="414.59" font-size="7.3" text-anchor="middle" textLength="26.00" lengthAdjust="spacingAndGlyphs" fill="#2a2a2a">13 (0.89)</text>
<text class="r" x="227.00" y="414.59" font-size="7.3" text-anchor="middle" textLength="26.00" lengthAdjust="spacingAndGlyphs" fill="#2a2a2a">53 (2.86)</text>
<text class="r" x="419.00" y="414.59" font-size="7.3" textLength="46.23" lengthAdjust="spacingAndGlyphs" fill="#2a2a2a">0.30 (0.16-0.54)</text>
<text class="r" x="511.30" y="414.59" font-size="7.3" text-anchor="end" textLength="24.22" lengthAdjust="spacingAndGlyphs" fill="#2a2a2a">&lt;0.0001</text>
<line x1="311.24" y1="412.59" x2="344.60" y2="412.59" stroke="#ad0026" stroke-width="1.1"/>
<line x1="344.60" y1="409.89" x2="344.60" y2="415.29" stroke="#ad0026" stroke-width="1.1"/>
<line x1="311.24" y1="409.89" x2="311.24" y2="415.29" stroke="#ad0026" stroke-width="1.1"/>
<rect x="325.63" y="409.89" width="5.7" height="5.4" fill="#ad0026"/>
<line x1="168.9" y1="425.92" x2="172" y2="425.92" stroke="#2a2a2a" stroke-width="1.15"/>
<text class="r" x="166.20" y="427.92" font-size="7.3" text-anchor="end" textLength="45.15" lengthAdjust="spacingAndGlyphs" fill="#2a2a2a">Any Arterial TE</text>
<text class="r" x="194.00" y="427.92" font-size="7.3" text-anchor="middle" textLength="26.00" lengthAdjust="spacingAndGlyphs" fill="#2a2a2a">13 (0.89)</text>
<text class="r" x="227.00" y="427.92" font-size="7.3" text-anchor="middle" textLength="26.00" lengthAdjust="spacingAndGlyphs" fill="#2a2a2a">50 (2.70)</text>
<text class="r" x="419.00" y="427.92" font-size="7.3" textLength="46.23" lengthAdjust="spacingAndGlyphs" fill="#2a2a2a">0.32 (0.17-0.58)</text>
<text class="r" x="511.30" y="427.92" font-size="7.3" text-anchor="end" textLength="24.22" lengthAdjust="spacingAndGlyphs" fill="#2a2a2a">&lt;0.0001</text>
<line x1="312.90" y1="425.92" x2="346.56" y2="425.92" stroke="#ad0026" stroke-width="1.1"/>
<line x1="346.56" y1="423.22" x2="346.56" y2="428.62" stroke="#ad0026" stroke-width="1.1"/>
<line x1="312.90" y1="423.22" x2="312.90" y2="428.62" stroke="#ad0026" stroke-width="1.1"/>
<rect x="327.40" y="423.22" width="5.7" height="5.4" fill="#ad0026"/>
<line x1="168.9" y1="439.25" x2="172" y2="439.25" stroke="#2a2a2a" stroke-width="1.15"/>
<text class="r" x="166.20" y="441.25" font-size="7.3" text-anchor="end" textLength="125.15" lengthAdjust="spacingAndGlyphs" fill="#2a2a2a">Cerebral ischemic event (infraction or TIA)</text>
<text class="r" x="194.00" y="441.25" font-size="7.3" text-anchor="middle" textLength="22.39" lengthAdjust="spacingAndGlyphs" fill="#2a2a2a">6 (0.41)</text>
<text class="r" x="227.00" y="441.25" font-size="7.3" text-anchor="middle" textLength="26.00" lengthAdjust="spacingAndGlyphs" fill="#2a2a2a">31 (1.68)</text>
<text class="r" x="419.00" y="441.25" font-size="7.3" textLength="46.23" lengthAdjust="spacingAndGlyphs" fill="#2a2a2a">0.23 (0.10-0.56)</text>
<text class="r" x="511.30" y="441.25" font-size="7.3" text-anchor="end" textLength="20.34" lengthAdjust="spacingAndGlyphs" fill="#2a2a2a">0.0003</text>
<line x1="298.35" y1="439.25" x2="345.60" y2="439.25" stroke="#ad0026" stroke-width="1.1"/>
<line x1="345.60" y1="436.55" x2="345.60" y2="441.95" stroke="#ad0026" stroke-width="1.1"/>
<line x1="298.35" y1="436.55" x2="298.35" y2="441.95" stroke="#ad0026" stroke-width="1.1"/>
<rect x="318.34" y="436.55" width="5.7" height="5.4" fill="#ad0026"/>
<line x1="168.9" y1="452.58" x2="172" y2="452.58" stroke="#2a2a2a" stroke-width="1.15"/>
<text class="r" x="166.20" y="454.58" font-size="7.3" text-anchor="end" textLength="55.65" lengthAdjust="spacingAndGlyphs" fill="#2a2a2a">Cerebral infarction</text>
<text class="r" x="194.00" y="454.58" font-size="7.3" text-anchor="middle" textLength="22.39" lengthAdjust="spacingAndGlyphs" fill="#2a2a2a">5 (0.34)</text>
<text class="r" x="227.00" y="454.58" font-size="7.3" text-anchor="middle" textLength="26.00" lengthAdjust="spacingAndGlyphs" fill="#2a2a2a">20 (1.08)</text>
<text class="r" x="419.00" y="454.58" font-size="7.3" textLength="45.74" lengthAdjust="spacingAndGlyphs" fill="#2a2a2a">0.30 (0.11-0.81)</text>
<text class="r" x="511.30" y="454.58" font-size="7.3" text-anchor="end" textLength="20.34" lengthAdjust="spacingAndGlyphs" fill="#2a2a2a">0.0140</text>
<line x1="300.96" y1="452.58" x2="355.72" y2="452.58" stroke="#ad0026" stroke-width="1.1"/>
<line x1="355.72" y1="449.88" x2="355.72" y2="455.28" stroke="#ad0026" stroke-width="1.1"/>
<line x1="300.96" y1="449.88" x2="300.96" y2="455.28" stroke="#ad0026" stroke-width="1.1"/>
<rect x="325.63" y="449.88" width="5.7" height="5.4" fill="#ad0026"/>
<line x1="168.9" y1="465.91" x2="172" y2="465.91" stroke="#2a2a2a" stroke-width="1.15"/>
<text class="r" x="166.20" y="467.91" font-size="7.3" text-anchor="end" textLength="10.90" lengthAdjust="spacingAndGlyphs" fill="#2a2a2a">TIA</text>
<text class="r" x="194.00" y="467.91" font-size="7.3" text-anchor="middle" textLength="22.39" lengthAdjust="spacingAndGlyphs" fill="#2a2a2a">1 (0.07)</text>
<text class="r" x="227.00" y="467.91" font-size="7.3" text-anchor="middle" textLength="25.52" lengthAdjust="spacingAndGlyphs" fill="#2a2a2a">11 (0.59)</text>
<text class="r" x="419.00" y="467.91" font-size="7.3" textLength="45.74" lengthAdjust="spacingAndGlyphs" fill="#2a2a2a">0.11 (0.01-0.85)</text>
<text class="r" x="511.30" y="467.91" font-size="7.3" text-anchor="end" textLength="20.34" lengthAdjust="spacingAndGlyphs" fill="#2a2a2a">0.0160</text>
<line x1="274.00" y1="465.91" x2="357.04" y2="465.91" stroke="#ad0026" stroke-width="1.1"/>
<line x1="357.04" y1="463.21" x2="357.04" y2="468.61" stroke="#ad0026" stroke-width="1.1"/>
<path d="M273.50,465.91 L279.30,463.01 L277.80,465.91 L279.30,468.81 Z" fill="#ad0026"/>
<rect x="298.11" y="463.21" width="5.7" height="5.4" fill="#ad0026"/>
<line x1="168.9" y1="479.24" x2="172" y2="479.24" stroke="#2a2a2a" stroke-width="1.15"/>
<text class="r" x="166.20" y="481.24" font-size="7.3" text-anchor="end" textLength="62.65" lengthAdjust="spacingAndGlyphs" fill="#2a2a2a">Myocardial infarction</text>
<text class="r" x="194.00" y="481.24" font-size="7.3" text-anchor="middle" textLength="22.39" lengthAdjust="spacingAndGlyphs" fill="#2a2a2a">7 (0.48)</text>
<text class="r" x="227.00" y="481.24" font-size="7.3" text-anchor="middle" textLength="26.00" lengthAdjust="spacingAndGlyphs" fill="#2a2a2a">17 (0.92)</text>
<text class="r" x="419.00" y="481.24" font-size="7.3" textLength="46.23" lengthAdjust="spacingAndGlyphs" fill="#2a2a2a">0.50 (0.21-1.20)</text>
<text class="r" x="511.30" y="481.24" font-size="7.3" text-anchor="end" textLength="20.34" lengthAdjust="spacingAndGlyphs" fill="#2a2a2a">0.1492</text>
<line x1="318.70" y1="479.24" x2="366.50" y2="479.24" stroke="#ad0026" stroke-width="1.1"/>
<line x1="366.50" y1="476.54" x2="366.50" y2="481.94" stroke="#ad0026" stroke-width="1.1"/>
<line x1="318.70" y1="476.54" x2="318.70" y2="481.94" stroke="#ad0026" stroke-width="1.1"/>
<rect x="339.64" y="476.54" width="5.7" height="5.4" fill="#ad0026"/>
<line x1="168.9" y1="492.57" x2="172" y2="492.57" stroke="#2a2a2a" stroke-width="1.15"/>
<text class="r" x="166.20" y="494.57" font-size="7.3" text-anchor="end" textLength="31.90" lengthAdjust="spacingAndGlyphs" fill="#2a2a2a">Venous TE</text>
<text class="r" x="194.00" y="494.57" font-size="7.3" text-anchor="middle" textLength="22.39" lengthAdjust="spacingAndGlyphs" fill="#2a2a2a">0 (0.00)</text>
<text class="r" x="227.00" y="494.57" font-size="7.3" text-anchor="middle" textLength="22.39" lengthAdjust="spacingAndGlyphs" fill="#2a2a2a">3 (0.16)</text>
<text class="r" x="419.00" y="494.57" font-size="7.3" textLength="46.23" lengthAdjust="spacingAndGlyphs" fill="#2a2a2a">0.20 (0.00-4.03)</text>
<text class="r" x="511.30" y="494.57" font-size="7.3" text-anchor="end" textLength="20.34" lengthAdjust="spacingAndGlyphs" fill="#2a2a2a">0.2638</text>
<line x1="274.00" y1="492.57" x2="399.73" y2="492.57" stroke="#ad0026" stroke-width="1.1"/>
<line x1="399.73" y1="489.87" x2="399.73" y2="495.27" stroke="#ad0026" stroke-width="1.1"/>
<path d="M273.50,492.57 L279.30,489.67 L277.80,492.57 L279.30,495.47 Z" fill="#ad0026"/>
<rect x="314.51" y="489.87" width="5.7" height="5.4" fill="#ad0026"/>
<line x1="168.9" y1="505.90" x2="172" y2="505.90" stroke="#2a2a2a" stroke-width="1.15"/>
<text class="r" x="166.20" y="507.90" font-size="7.3" text-anchor="end" textLength="87.65" lengthAdjust="spacingAndGlyphs" fill="#2a2a2a">Major bleeding (ISTH criteria)</text>
<text class="r" x="194.00" y="507.90" font-size="7.3" text-anchor="middle" textLength="26.00" lengthAdjust="spacingAndGlyphs" fill="#2a2a2a">33 (2.27)</text>
<text class="r" x="227.00" y="507.90" font-size="7.3" text-anchor="middle" textLength="26.00" lengthAdjust="spacingAndGlyphs" fill="#2a2a2a">56 (3.03)</text>
<text class="r" x="419.00" y="507.90" font-size="7.3" textLength="46.23" lengthAdjust="spacingAndGlyphs" fill="#2a2a2a">0.71 (0.47-1.09)</text>
<text class="r" x="511.30" y="507.90" font-size="7.3" text-anchor="end" textLength="20.34" lengthAdjust="spacingAndGlyphs" fill="#2a2a2a">0.1315</text>
<line x1="340.79" y1="505.90" x2="363.86" y2="505.90" stroke="#ad0026" stroke-width="1.1"/>
<line x1="363.86" y1="503.20" x2="363.86" y2="508.60" stroke="#ad0026" stroke-width="1.1"/>
<line x1="340.79" y1="503.20" x2="340.79" y2="508.60" stroke="#ad0026" stroke-width="1.1"/>
<rect x="349.26" y="503.20" width="5.7" height="5.4" fill="#ad0026"/>
<line x1="168.9" y1="519.23" x2="172" y2="519.23" stroke="#2a2a2a" stroke-width="1.15"/>
<text class="r" x="166.20" y="521.23" font-size="7.3" text-anchor="end" textLength="35.65" lengthAdjust="spacingAndGlyphs" fill="#2a2a2a">GI bleeding</text>
<text class="r" x="194.00" y="521.23" font-size="7.3" text-anchor="middle" textLength="26.00" lengthAdjust="spacingAndGlyphs" fill="#2a2a2a">23 (1.44)</text>
<text class="r" x="227.00" y="521.23" font-size="7.3" text-anchor="middle" textLength="26.00" lengthAdjust="spacingAndGlyphs" fill="#2a2a2a">26 (1.41)</text>
<text class="r" x="419.00" y="521.23" font-size="7.3" textLength="46.23" lengthAdjust="spacingAndGlyphs" fill="#2a2a2a">0.98 (0.55-1.73)</text>
<text class="r" x="511.30" y="521.23" font-size="7.3" text-anchor="end" textLength="20.34" lengthAdjust="spacingAndGlyphs" fill="#2a2a2a">1.0000</text>
<line x1="345.10" y1="519.23" x2="376.53" y2="519.23" stroke="#ad0026" stroke-width="1.1"/>
<line x1="376.53" y1="516.53" x2="376.53" y2="521.93" stroke="#ad0026" stroke-width="1.1"/>
<line x1="345.10" y1="516.53" x2="345.10" y2="521.93" stroke="#ad0026" stroke-width="1.1"/>
<rect x="358.10" y="516.53" width="5.7" height="5.4" fill="#ad0026"/>
<line x1="168.9" y1="532.56" x2="172" y2="532.56" stroke="#2a2a2a" stroke-width="1.15"/>
<text class="r" x="166.20" y="534.56" font-size="7.3" text-anchor="end" textLength="88.15" lengthAdjust="spacingAndGlyphs" fill="#2a2a2a">Intracranial hemorrhage (ICH)</text>
<text class="r" x="194.00" y="534.56" font-size="7.3" text-anchor="middle" textLength="22.39" lengthAdjust="spacingAndGlyphs" fill="#2a2a2a">7 (0.48)</text>
<text class="r" x="227.00" y="534.56" font-size="7.3" text-anchor="middle" textLength="26.00" lengthAdjust="spacingAndGlyphs" fill="#2a2a2a">17 (0.92)</text>
<text class="r" x="419.00" y="534.56" font-size="7.3" textLength="46.23" lengthAdjust="spacingAndGlyphs" fill="#2a2a2a">0.50 (0.21-1.20)</text>
<text class="r" x="511.30" y="534.56" font-size="7.3" text-anchor="end" textLength="20.34" lengthAdjust="spacingAndGlyphs" fill="#2a2a2a">0.1492</text>
<line x1="318.70" y1="532.56" x2="366.50" y2="532.56" stroke="#ad0026" stroke-width="1.1"/>
<line x1="366.50" y1="529.86" x2="366.50" y2="535.26" stroke="#ad0026" stroke-width="1.1"/>
<line x1="318.70" y1="529.86" x2="318.70" y2="535.26" stroke="#ad0026" stroke-width="1.1"/>
<rect x="339.64" y="529.86" width="5.7" height="5.4" fill="#ad0026"/>
<line x1="168.9" y1="545.89" x2="172" y2="545.89" stroke="#2a2a2a" stroke-width="1.15"/>
<text class="r" x="166.20" y="547.89" font-size="7.3" text-anchor="end" textLength="76.40" lengthAdjust="spacingAndGlyphs" fill="#2a2a2a">Intracerebral hemorrhage</text>
<text class="r" x="194.00" y="547.89" font-size="7.3" text-anchor="middle" textLength="22.39" lengthAdjust="spacingAndGlyphs" fill="#2a2a2a">2 (0.14)</text>
<text class="r" x="227.00" y="547.89" font-size="7.3" text-anchor="middle" textLength="22.39" lengthAdjust="spacingAndGlyphs" fill="#2a2a2a">4 (0.22)</text>
<text class="r" x="419.00" y="547.89" font-size="7.3" textLength="45.74" lengthAdjust="spacingAndGlyphs" fill="#2a2a2a">0.61 (0.11-3.30)</text>
<text class="r" x="511.30" y="547.89" font-size="7.3" text-anchor="end" textLength="20.34" lengthAdjust="spacingAndGlyphs" fill="#2a2a2a">0.6958</text>
<line x1="300.96" y1="545.89" x2="394.24" y2="545.89" stroke="#ad0026" stroke-width="1.1"/>
<line x1="394.24" y1="543.19" x2="394.24" y2="548.59" stroke="#ad0026" stroke-width="1.1"/>
<line x1="300.96" y1="543.19" x2="300.96" y2="548.59" stroke="#ad0026" stroke-width="1.1"/>
<rect x="345.09" y="543.19" width="5.7" height="5.4" fill="#ad0026"/>
<line x1="168.9" y1="559.22" x2="172" y2="559.22" stroke="#2a2a2a" stroke-width="1.15"/>
<text class="r" x="166.20" y="561.22" font-size="7.3" text-anchor="end" textLength="49.40" lengthAdjust="spacingAndGlyphs" fill="#2a2a2a">Death any cause</text>
<text class="r" x="194.00" y="561.22" font-size="7.3" text-anchor="middle" textLength="26.00" lengthAdjust="spacingAndGlyphs" fill="#2a2a2a">14 (0.96)</text>
<text class="r" x="227.00" y="561.22" font-size="7.3" text-anchor="middle" textLength="26.00" lengthAdjust="spacingAndGlyphs" fill="#2a2a2a">26 (1.30)</text>
<text class="r" x="419.00" y="561.22" font-size="7.3" textLength="46.23" lengthAdjust="spacingAndGlyphs" fill="#2a2a2a">0.77 (0.40-2.53)</text>
<text class="r" x="511.30" y="561.22" font-size="7.3" text-anchor="end" textLength="20.34" lengthAdjust="spacingAndGlyphs" fill="#2a2a2a">0.5031</text>
<line x1="336.37" y1="559.22" x2="386.96" y2="559.22" stroke="#ad0026" stroke-width="1.1"/>
<line x1="386.96" y1="556.52" x2="386.96" y2="561.92" stroke="#ad0026" stroke-width="1.1"/>
<line x1="336.37" y1="556.52" x2="336.37" y2="561.92" stroke="#ad0026" stroke-width="1.1"/>
<rect x="351.48" y="556.52" width="5.7" height="5.4" fill="#ad0026"/>
<line x1="168.9" y1="572.55" x2="172" y2="572.55" stroke="#2a2a2a" stroke-width="1.15"/>
<text class="r" x="166.20" y="574.55" font-size="7.3" text-anchor="end" textLength="43.90" lengthAdjust="spacingAndGlyphs" fill="#2a2a2a">Vascular death</text>
<text class="r" x="194.00" y="574.55" font-size="7.3" text-anchor="middle" textLength="22.39" lengthAdjust="spacingAndGlyphs" fill="#2a2a2a">3 (0.21)</text>
<text class="r" x="227.00" y="574.55" font-size="7.3" text-anchor="middle" textLength="26.00" lengthAdjust="spacingAndGlyphs" fill="#2a2a2a">13 (0.70)</text>
<text class="r" x="419.00" y="574.55" font-size="7.3" textLength="46.23" lengthAdjust="spacingAndGlyphs" fill="#2a2a2a">0.28 (0.08-0.98)</text>
<text class="r" x="511.30" y="574.55" font-size="7.3" text-anchor="end" textLength="20.34" lengthAdjust="spacingAndGlyphs" fill="#2a2a2a">0.0422</text>
<line x1="292.23" y1="572.55" x2="360.95" y2="572.55" stroke="#ad0026" stroke-width="1.1"/>
<line x1="360.95" y1="569.85" x2="360.95" y2="575.25" stroke="#ad0026" stroke-width="1.1"/>
<line x1="292.23" y1="569.85" x2="292.23" y2="575.25" stroke="#ad0026" stroke-width="1.1"/>
<rect x="323.74" y="569.85" width="5.7" height="5.4" fill="#ad0026"/>
</svg>
</body></html>
